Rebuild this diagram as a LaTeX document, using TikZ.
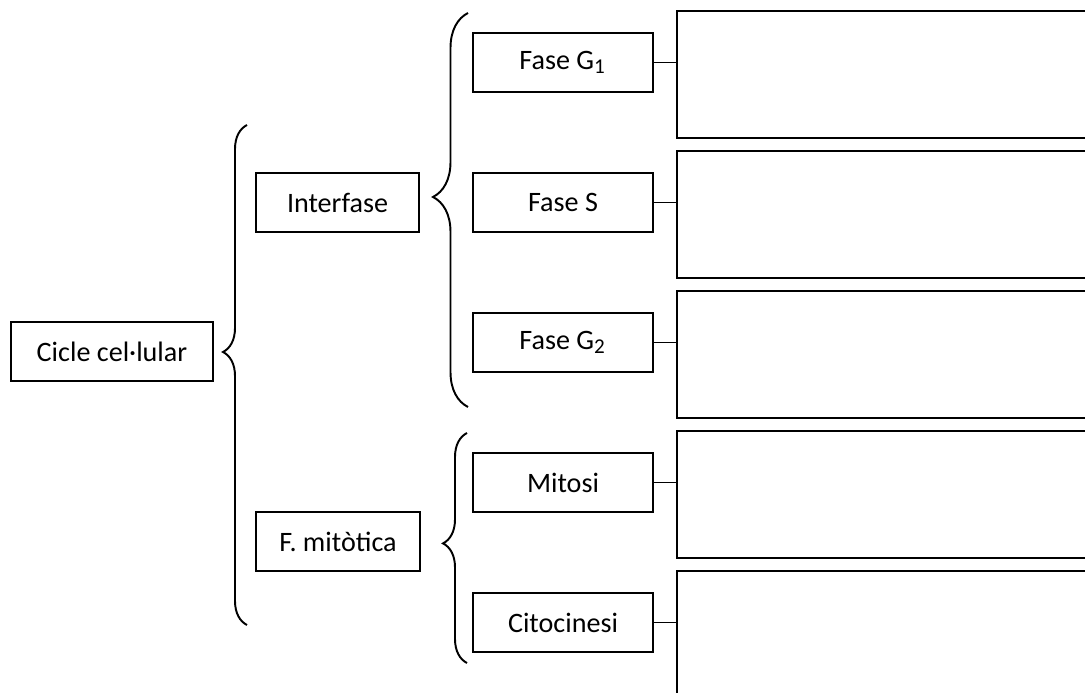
\documentclass[tikz,border=0pt]{standalone}
\usepackage{fontspec}
\setmainfont{Carlito}
\usetikzlibrary{decorations.pathreplacing}

\tikzset{
    stage/.style={draw, line width=0.55pt, inner sep=0pt, minimum height=0.59cm,
        font=\fontsize{8}{9.6}\selectfont},
    notebox/.style={draw, line width=0.55pt, anchor=north west,
        minimum width=4.6cm, minimum height=1.27cm},
    link/.style={line width=0.55pt},
}

\begin{document}
\begin{tikzpicture}
    % page area, the note boxes run off the right and bottom edges
    \clip (0,0) rectangle (10.85,6.93);

    % Whole cycle
    \node[stage, minimum width=2.02cm] (cycle) at (1.12, 3.415) {Cicle cel·lular};

    % Main phases
    \node[stage, minimum width=1.63cm] (inter) at (3.375, 4.905) {Interfase};
    \node[stage, minimum width=1.64cm] (mitotic) at (3.38, 1.515) {F. mitòtica};

    % Sub-phases
    \node[stage, minimum width=1.8cm] (g1) at (5.63, 6.305) {Fase G\textsubscript{1}};
    \node[stage, minimum width=1.8cm] (sph) at (5.63, 4.905) {Fase S};
    \node[stage, minimum width=1.8cm] (g2) at (5.63, 3.505) {Fase G\textsubscript{2}};
    \node[stage, minimum width=1.8cm] (mitosis) at (5.63, 2.105) {Mitosi};
    \node[stage, minimum width=1.8cm] (cytok) at (5.63, 0.705) {Citocinesi};

    % Empty boxes to write in
    \node[notebox] (note1) at (6.76, 6.83) {};
    \node[notebox] (note2) at (6.76, 5.43) {};
    \node[notebox] (note3) at (6.76, 4.03) {};
    \node[notebox] (note4) at (6.76, 2.63) {};
    \node[notebox] (note5) at (6.76, 1.23) {};

    \draw[link] (g1.east) -- (g1.east -| note1.west);
    \draw[link] (sph.east) -- (sph.east -| note2.west);
    \draw[link] (g2.east) -- (g2.east -| note3.west);
    \draw[link] (mitosis.east) -- (mitosis.east -| note4.west);
    \draw[link] (cytok.east) -- (cytok.east -| note5.west);

    % Braces
    \coordinate (cycle-lo) at (2.47, 0.68);
    \coordinate (cycle-hi) at (2.47, 5.68);
    \draw[line width=0.55pt, decorate, decoration={brace, amplitude=0.24cm, aspect=0.546}]
        (cycle-lo) -- (cycle-hi);

    \coordinate (inter-lo) at (4.68, 2.86);
    \coordinate (inter-hi) at (4.68, 6.80);
    \draw[line width=0.55pt, decorate, decoration={brace, amplitude=0.35cm, aspect=0.533}]
        (inter-lo) -- (inter-hi);

    \coordinate (mitotic-lo) at (4.67, 0.30);
    \coordinate (mitotic-hi) at (4.67, 2.60);
    \draw[line width=0.55pt, decorate, decoration={brace, amplitude=0.24cm, aspect=0.52}]
        (mitotic-lo) -- (mitotic-hi);
\end{tikzpicture}
\end{document}
